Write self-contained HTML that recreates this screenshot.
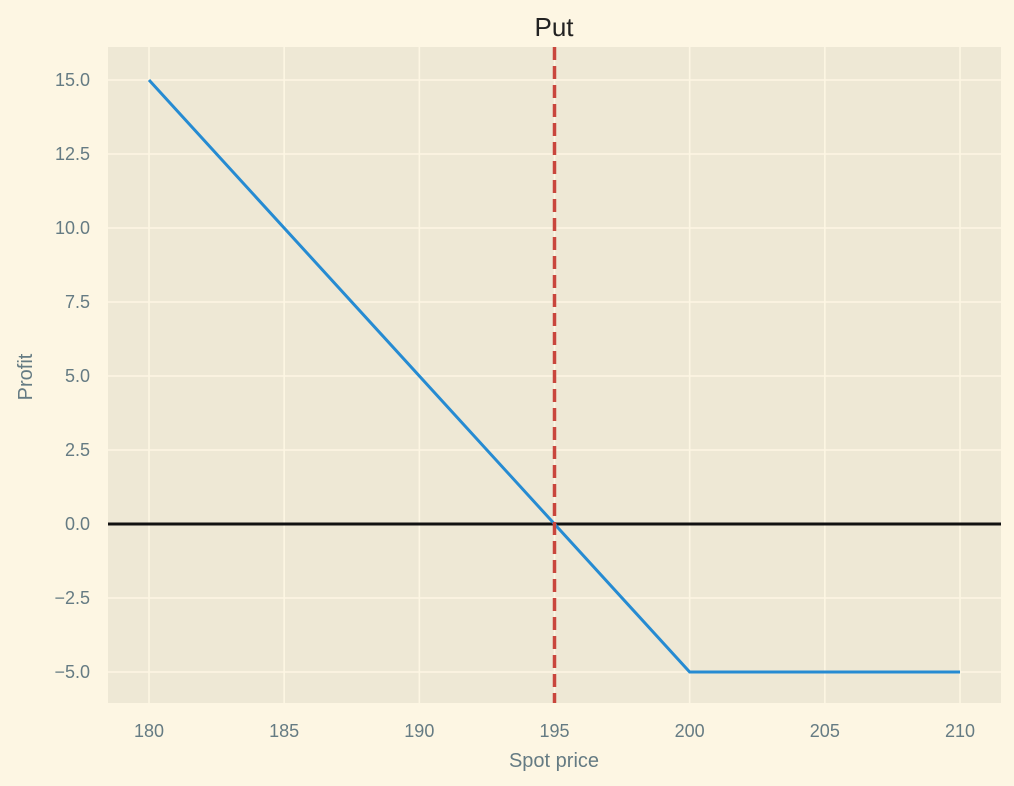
<!DOCTYPE html>
<html><head><meta charset="utf-8"><style>
body{margin:0;background:#FDF6E3;}
svg{display:block;font-family:"Liberation Sans","DejaVu Sans",sans-serif;}
</style></head><body>
<svg id="chart" width="1014" height="786" viewBox="0 0 1014 786">
<rect x="0" y="0" width="1014" height="786" fill="#FDF6E3"/>
<rect x="108" y="47" width="893" height="656" fill="#EEE8D5"/>
<g id="grid"></g>
<g id="marks"></g>
<g id="ticks"></g>
<text x="554" y="36" font-size="26" fill="#222" text-anchor="middle">Put</text>
<text x="554" y="767" font-size="20" fill="#657b83" text-anchor="middle">Spot price</text>
<text x="32" y="377" font-size="20" fill="#657b83" text-anchor="middle" transform="rotate(-90 32 377)">Profit</text>
</svg>
<script>
const xTicks=[180,185,190,195,200,205,210];
const yTicks=[-5,-2.5,0,2.5,5,7.5,10,12.5,15];
const yTickLabels=["\u22125.0","\u22122.5","0.0","2.5","5.0","7.5","10.0","12.5","15.0"];
const spot=[180,200,210];
const profit=[15,-5,-5];
const breakEven=195;
const zeroLine=0;
const L=108,R=1001,T=47,B=703;
function sx(v){return 149+(v-180)*(960-149)/30;}
function sy(v){return 524-v*(524-80)/15;}
const NS="http://www.w3.org/2000/svg";
function mk(p,t,a){const e=document.createElementNS(NS,t);for(const k in a)e.setAttribute(k,a[k]);p.appendChild(e);return e;}
const grid=document.getElementById('grid'),marks=document.getElementById('marks'),ticks=document.getElementById('ticks');
xTicks.forEach(v=>{
 const g=mk(grid,'line',{x1:sx(v),x2:sx(v),y1:T,y2:B,stroke:'#FDF6E3','stroke-width':1.6});
 
 
 const t=mk(ticks,'text',{x:sx(v),y:737,'font-size':18,fill:'#657b83','text-anchor':'middle'});
 t.textContent=v;
 
 
});
yTicks.forEach((v,i)=>{
 const g=mk(grid,'line',{x1:L,x2:R,y1:sy(v),y2:sy(v),stroke:'#FDF6E3','stroke-width':1.6});
 
 
 const t=mk(ticks,'text',{x:90,y:sy(v)+6,'font-size':18,fill:'#657b83','text-anchor':'end'});
 t.textContent=yTickLabels[i];
 
 
});
const z=mk(marks,'line',{x1:L,x2:R,y1:sy(zeroLine),y2:sy(zeroLine),stroke:'#111','stroke-width':3});


const pl=mk(marks,'polyline',{points:spot.map((s,i)=>sx(s)+','+sy(profit[i])).join(' '),fill:'none',stroke:'#268BD2','stroke-width':3});


const be=mk(marks,'line',{x1:sx(breakEven),x2:sx(breakEven),y1:T,y2:B,stroke:'#c9463d','stroke-width':3.5,'stroke-dasharray':'13 6'});


</script>
</body></html>
